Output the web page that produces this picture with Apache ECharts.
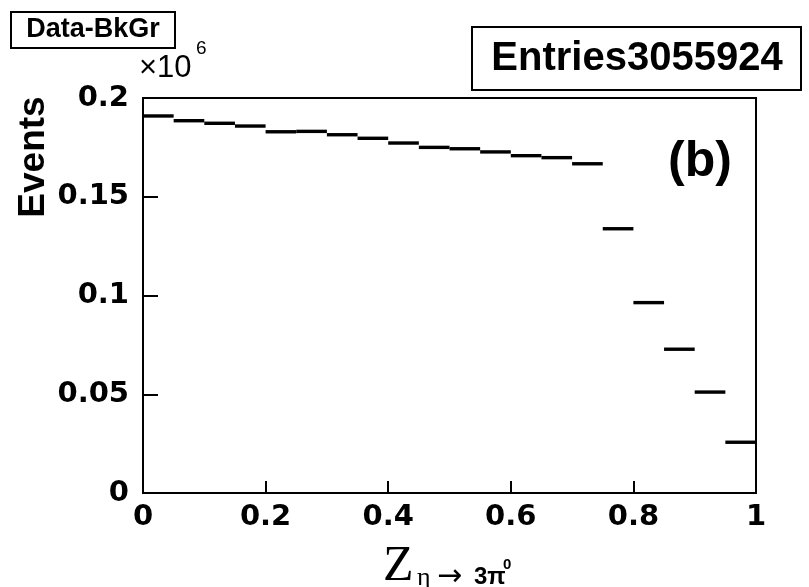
<!DOCTYPE html>
<html>
<head>
<meta charset="utf-8">
<script src="https://cdn.jsdelivr.net/npm/echarts@6/dist/echarts.min.js"></script>
<style>
html,body{margin:0;padding:0;background:#fff;}
#c{width:809px;height:587px;}
</style>
</head>
<body>
<div id="c"></div>
<script>
// Bin edges (low edges), width 0.05
var binLow = [0,0.05,0.1,0.15,0.2,0.25,0.3,0.35,0.4,0.45,0.5,0.55,0.6,0.65,0.7,0.75,0.8,0.85,0.9,0.95];
var binWidth = 0.05;
// Events per bin (Data - background)
var events = [190900,188500,187200,185800,182900,183100,181400,179600,177200,175000,
              174300,172700,170800,169800,166700,133800,96400,72800,51100,25700];
var xTicks = [0,0.2,0.4,0.6,0.8,1];
var yTicks = [0,50000,100000,150000,200000];

var data = binLow.map(function(x,i){ return [x, x+binWidth, events[i]]; });

var chart = echarts.init(document.getElementById('c'));
var boldFont = 'DejaVu Sans';
chart.setOption({
  animation:false,
  backgroundColor:'#fff',
  grid:{left:143,right:53,top:98,bottom:94,show:true,borderColor:'#000',borderWidth:2,backgroundColor:'transparent'},
  xAxis:{
    type:'value',min:xTicks[0],max:xTicks[xTicks.length-1],interval:0.2,
    axisLine:{show:true,lineStyle:{color:'#000',width:2}},
    axisTick:{show:true,inside:true,length:12,lineStyle:{color:'#000',width:2}},
    splitLine:{show:false},
    axisLabel:{color:'#000',fontFamily:boldFont,fontWeight:'bold',fontSize:29,margin:10,
      formatter:function(v){return String(+v.toFixed(2));}}
  },
  yAxis:{
    type:'value',min:yTicks[0],max:yTicks[yTicks.length-1],interval:50000,
    axisLine:{show:true,lineStyle:{color:'#000',width:2}},
    axisTick:{show:true,inside:true,length:15,lineStyle:{color:'#000',width:2}},
    splitLine:{show:false},
    axisLabel:{color:'#000',fontFamily:boldFont,fontWeight:'bold',fontSize:29,margin:14,
      formatter:function(v){return String(+(v/1e6).toFixed(2));}}
  },
  series:[{
    type:'custom',
    data:data,
    encode:{x:[0,1],y:2},
    renderItem:function(params,api){
      var p1 = api.coord([api.value(0), api.value(2)]);
      var p2 = api.coord([api.value(1), api.value(2)]);
      return {type:'line',shape:{x1:p1[0],y1:p1[1],x2:p2[0],y2:p2[1]},
        style:{stroke:'#000',lineWidth:3.4}};
    }
  }],
  graphic:[
    {type:'rect',shape:{x:11,y:12,width:164,height:36},style:{fill:'#fff',stroke:'#000',lineWidth:2}},
    {type:'text',x:93,y:30,style:{text:'Data-BkGr',font:'bold 27px "Liberation Sans"',fill:'#000',textAlign:'center',textVerticalAlign:'middle'}},
    {type:'rect',shape:{x:472,y:27,width:329,height:63},style:{fill:'#fff',stroke:'#000',lineWidth:2}},
    {type:'text',x:637,y:59,style:{text:'Entries3055924',font:'bold 40px "Liberation Sans"',fill:'#000',textAlign:'center',textVerticalAlign:'middle'}},
    {type:'text',x:700,y:162,style:{text:'(b)',font:'bold 50px "Liberation Sans"',fill:'#000',textAlign:'center',textVerticalAlign:'middle'}},
    {type:'text',x:34,y:157,rotation:Math.PI/2,style:{text:'Events',font:'bold 37px "Liberation Sans"',fill:'#000',textAlign:'center',textVerticalAlign:'middle'}},
    {type:'text',x:139,y:68,style:{text:'×10',font:'31px "Liberation Sans"',fill:'#000',textAlign:'left',textVerticalAlign:'middle'}},
    {type:'text',x:196,y:49,style:{text:'6',font:'19px "Liberation Sans"',fill:'#000',textAlign:'left',textVerticalAlign:'middle'}},
    {type:'text',x:383,y:567,style:{text:'Z',font:'50px "Liberation Serif"',fill:'#000',textAlign:'left',textVerticalAlign:'middle'}},
    {type:'text',x:417,y:578,style:{text:'η',font:'26px "Liberation Serif"',fill:'#000',textAlign:'left',textVerticalAlign:'middle'}},
    {type:'text',x:437,y:577,style:{text:'→',font:'30px "DejaVu Sans"',fill:'#000',textAlign:'left',textVerticalAlign:'middle'}},
    {type:'text',x:474,y:577,style:{text:'3π',font:'bold 24px "Liberation Sans"',fill:'#000',textAlign:'left',textVerticalAlign:'middle'}},
    {type:'text',x:503,y:565,style:{text:'0',font:'bold 15px "Liberation Sans"',fill:'#000',textAlign:'left',textVerticalAlign:'middle'}}
  ]
});
</script>
</body>
</html>
